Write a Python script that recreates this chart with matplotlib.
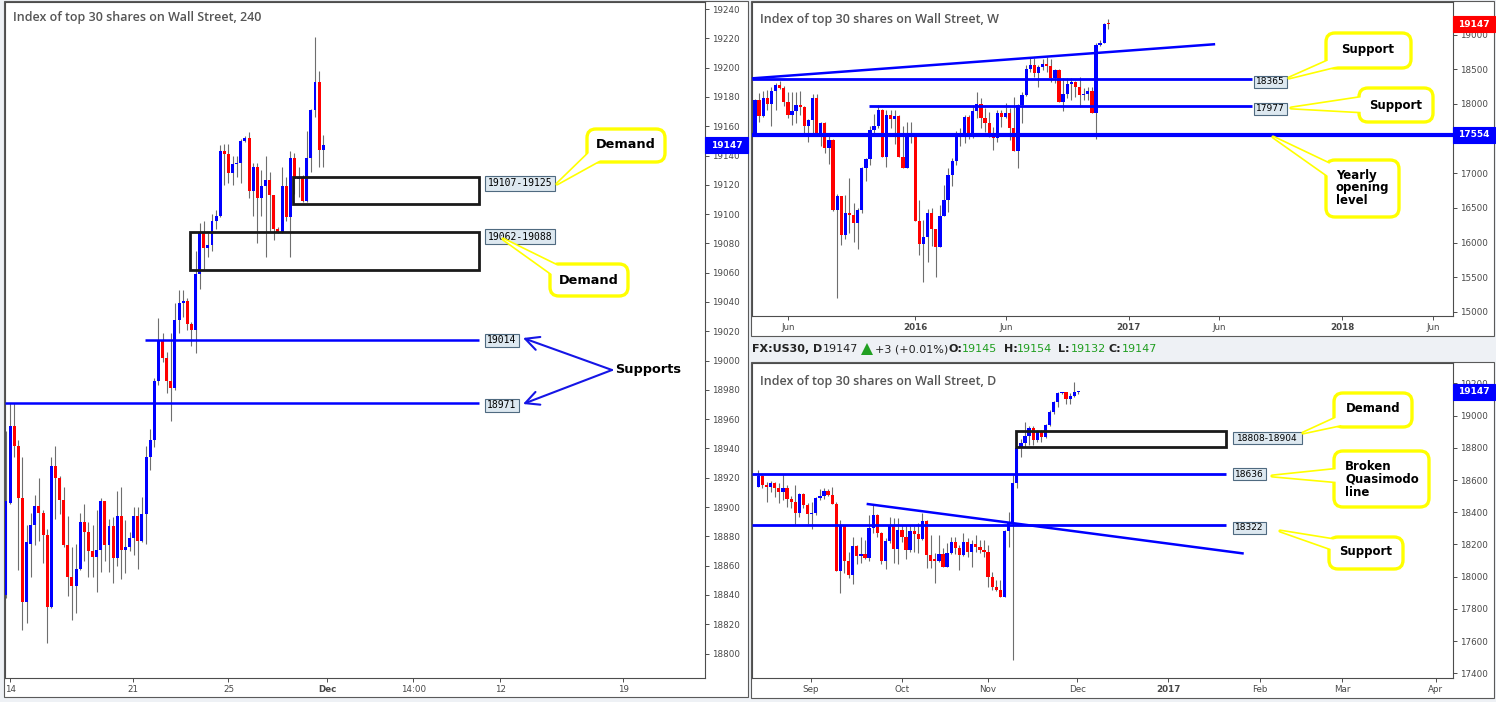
import matplotlib
matplotlib.use("Agg")
import matplotlib.pyplot as plt
import numpy as np
from matplotlib.patches import Rectangle, FancyBboxPatch, Polygon

W, H = 1496, 702

# ---- 4h candles (left panel) ----
h4_open = [18840, 18903, 18955, 18942, 18906, 18835, 18875, 18888, 18901, 18896,
           18881, 18832, 18928, 18920, 18905, 18874, 18852, 18846, 18858, 18890,
           18883, 18870, 18866, 18871, 18904, 18874, 18887, 18865, 18894, 18871,
           18873, 18879, 18894, 18877, 18895, 18934, 18946, 18986, 19014, 19002,
           18986, 18981, 19028, 19039, 19041, 19025, 19021, 19059, 19087, 19077,
           19079, 19095, 19099, 19143, 19141, 19128, 19134, 19135, 19150, 19152,
           19116, 19132, 19111, 19119, 19123, 19113, 19090, 19088, 19119, 19098,
           19138, 19124, 19125, 19109, 19138, 19171, 19190, 19144]
h4_high = [18952, 18971, 18971, 18946, 18934, 18888, 18896, 18908, 18920, 18898,
           18885, 18934, 18942, 18921, 18914, 18894, 18873, 18875, 18896, 18902,
           18890, 18888, 18898, 18906, 18904, 18892, 18893, 18911, 18914, 18891,
           18883, 18900, 18900, 18907, 18942, 18953, 18988, 19029, 19019, 19006,
           19019, 19039, 19048, 19048, 19043, 19026, 19075, 19094, 19095, 19087,
           19100, 19103, 19147, 19148, 19148, 19140, 19140, 19151, 19153, 19156,
           19135, 19135, 19130, 19140, 19129, 19113, 19091, 19132, 19125, 19143,
           19142, 19132, 19127, 19157, 19172, 19221, 19198, 19154]
h4_low = [18838, 18902, 18934, 18857, 18816, 18821, 18852, 18874, 18877, 18862,
          18807, 18831, 18892, 18895, 18873, 18839, 18823, 18828, 18857, 18863,
          18852, 18852, 18842, 18856, 18863, 18856, 18848, 18860, 18851, 18855,
          18870, 18867, 18858, 18876, 18875, 18925, 18941, 18983, 18999, 18978,
          18959, 18980, 19019, 19030, 19021, 19010, 19005, 19049, 19062, 19071,
          19075, 19090, 19098, 19120, 19121, 19120, 19125, 19121, 19149, 19111,
          19099, 19080, 19099, 19071, 19088, 19082, 19087, 19087, 19095, 19071,
          19114, 19112, 19108, 19108, 19129, 19166, 19132, 19132]
h4_close = [18904, 18955, 18942, 18906, 18835, 18876, 18888, 18901, 18896, 18881,
            18832, 18928, 18920, 18905, 18874, 18852, 18846, 18858, 18890, 18883,
            18870, 18866, 18871, 18904, 18874, 18887, 18865, 18894, 18871, 18873,
            18879, 18894, 18877, 18895, 18934, 18946, 18986, 19014, 19002, 18986,
            18981, 19028, 19039, 19041, 19025, 19021, 19059, 19087, 19077, 19079,
            19095, 19099, 19143, 19141, 19128, 19134, 19135, 19150, 19152, 19116,
            19132, 19111, 19119, 19123, 19113, 19090, 19088, 19119, 19098, 19138,
            19124, 19125, 19109, 19138, 19171, 19190, 19144, 19147]
h4_ticks = [1.0, 30.9, 54.0, 78.0, 98.9, 120.0, 149.8]
h4_labels = ["14", "21", "25", "Dec", "14:00", "12", "19"]

# ---- weekly candles (top right) ----
w_open = [17560, 18058, 17832, 18082, 18000, 18193, 18274, 18226, 18034, 17842,
          17899, 17986, 17952, 17683, 17769, 18082, 17577, 17721, 17361, 17481,
          16471, 16673, 16111, 16423, 16399, 16279, 16471, 17072, 17207, 17625,
          17683, 17914, 17240, 17842, 17784, 17832, 17240, 17082, 17553, 17540,
          16317, 15981, 16077, 16423, 16192, 15942, 16385, 16615, 16976, 17178,
          17577, 17539, 17808, 17553, 17899, 18000, 17794, 17721, 17529, 17505,
          17866, 17808, 17866, 17649, 17327, 17986, 18130, 18505, 18563, 18452,
          18529, 18572, 18548, 18380, 18490, 18034, 18140, 18289, 18322, 18240,
          18130, 18140, 18193, 17875, 18851, 18885, 19154]
w_high = [18070, 18164, 18193, 18202, 18240, 18298, 18332, 18260, 18178, 18178,
          18178, 18192, 17971, 17779, 18144, 18144, 17745, 17745, 17539, 17490,
          16702, 16680, 16688, 16928, 16567, 16495, 17096, 17216, 17683, 17856,
          17986, 17928, 17914, 17914, 17914, 17846, 17683, 17745, 17745, 17560,
          16615, 16327, 16481, 16495, 16192, 16543, 16832, 17072, 17216, 17616,
          17649, 17842, 17842, 17986, 18178, 18082, 17938, 17890, 17673, 17914,
          17914, 18019, 17938, 18106, 18000, 18178, 18563, 18659, 18659, 18563,
          18645, 18683, 18650, 18500, 18500, 18370, 18380, 18370, 18337, 18394,
          18226, 18240, 18240, 18875, 18923, 19164, 19226]
w_low = [17540, 17745, 17818, 17914, 17683, 17914, 18212, 17971, 17794, 17697,
         17722, 17842, 17567, 17457, 17577, 17553, 17394, 17289, 17130, 16460,
         15197, 15966, 16048, 16135, 16014, 15904, 16423, 16890, 17120, 17553,
         17650, 17235, 17096, 17650, 17423, 17235, 17080, 17080, 17442, 16310,
         15822, 15437, 15726, 15952, 15500, 15940, 16380, 16447, 16822, 17120,
         17399, 17433, 17491, 17505, 17794, 17659, 17601, 17520, 17337, 17457,
         17664, 17794, 17481, 17320, 17072, 17721, 18120, 18466, 18394, 18250,
         18490, 18466, 18322, 18298, 18030, 17899, 18082, 18058, 18106, 17962,
         18058, 18058, 17870, 17491, 18830, 18875, 19082]
w_close = [18058, 17832, 18082, 18000, 18193, 18274, 18226, 18034, 17842, 17899,
           17986, 17952, 17683, 17769, 18082, 17577, 17721, 17361, 17481, 16471,
           16673, 16111, 16423, 16399, 16279, 16471, 17072, 17207, 17625, 17683,
           17914, 17240, 17842, 17784, 17832, 17240, 17082, 17553, 17540, 16317,
           15981, 16077, 16423, 16192, 15942, 16385, 16615, 16976, 17178, 17577,
           17539, 17808, 17553, 17899, 18000, 17794, 17721, 17529, 17505, 17866,
           17808, 17866, 17649, 17327, 17986, 18130, 18505, 18563, 18452, 18529,
           18572, 18548, 18380, 18490, 18034, 18140, 18289, 18322, 18240, 18130,
           18140, 18193, 17875, 18851, 18885, 19154, 19147]
w_ticks = [8.0, 38.95, 61.1, 91.0, 112.9, 142.9, 165.1]
w_labels = ["Jun", "2016", "Jun", "2017", "Jun", "2018", "Jun"]
w_yticks = [15000, 15500, 16000, 16500, 17000, 18000, 18500, 19000]

# ---- daily candles (bottom right) ----
d_open = [18559, 18625, 18570, 18560, 18584, 18553, 18528, 18553, 18483, 18466,
          18398, 18514, 18445, 18389, 18398, 18491, 18500, 18532, 18507, 18452,
          18038, 18317, 18098, 18011, 18191, 18129, 18141, 18118, 18305, 18383,
          18274, 18098, 18222, 18321, 18172, 18290, 18249, 18166, 18284, 18265,
          18234, 18346, 18135, 18100, 18098, 18141, 18062, 18149, 18214, 18176,
          18135, 18214, 18155, 18201, 18182, 18166, 18151, 18000, 17938, 17917,
          17876, 18284, 18332, 18580, 18797, 18832, 18874, 18921, 18849, 18901,
          18870, 18942, 19025, 19083, 19139, 19145, 19102, 19122, 19145]
d_high = [18663, 18630, 18590, 18594, 18590, 18580, 18636, 18570, 18500, 18570,
          18522, 18522, 18460, 18466, 18497, 18543, 18549, 18543, 18559, 18466,
          18352, 18320, 18155, 18249, 18195, 18249, 18228, 18383, 18449, 18390,
          18280, 18243, 18373, 18362, 18362, 18321, 18321, 18317, 18317, 18331,
          18398, 18352, 18259, 18145, 18259, 18176, 18211, 18249, 18249, 18197,
          18269, 18238, 18228, 18259, 18228, 18228, 18197, 18031, 17980, 17980,
          18290, 18404, 18632, 18803, 18853, 18963, 18936, 18936, 18911, 18911,
          18946, 19035, 19093, 19149, 19149, 19149, 19143, 19211, 19154]
d_low = [18555, 18549, 18466, 18528, 18493, 18460, 18476, 18435, 18425, 18325,
         18373, 18425, 18325, 18294, 18383, 18479, 18481, 18501, 18450, 18035,
         17901, 18021, 17990, 17955, 18079, 18083, 18108, 18098, 18274, 18249,
         18079, 18048, 18210, 18087, 18077, 18218, 18108, 18155, 18155, 18145,
         18230, 18052, 18052, 17959, 18093, 18058, 18058, 18141, 18141, 18044,
         18130, 18124, 18062, 18155, 18145, 18124, 17938, 17917, 17913, 17872,
         17872, 18187, 17483, 18549, 18741, 18808, 18818, 18818, 18839, 18839,
         18860, 18938, 19008, 19056, 19137, 19071, 19071, 19114, 19132]
d_close = [18625, 18570, 18560, 18584, 18553, 18528, 18553, 18483, 18466, 18398,
           18514, 18445, 18389, 18398, 18491, 18500, 18532, 18507, 18452, 18038,
           18317, 18098, 18011, 18191, 18129, 18141, 18118, 18305, 18383, 18274,
           18098, 18222, 18321, 18172, 18290, 18249, 18166, 18284, 18265, 18234,
           18346, 18135, 18100, 18098, 18141, 18062, 18149, 18214, 18176, 18135,
           18214, 18155, 18201, 18182, 18166, 18151, 18000, 17938, 17917, 17876,
           18284, 18332, 18580, 18797, 18832, 18874, 18921, 18849, 18901, 18870,
           18942, 19025, 19083, 19139, 19145, 19102, 19122, 19144, 19147]
d_ticks = [12.8, 35.1, 55.9, 77.7, 99.9, 122.2, 142.3, 165.1]
d_labels = ["Sep", "Oct", "Nov", "Dec", "2017", "Feb", "Mar", "Apr"]

last_price = 19147
yearly_open = 17554

BLUE = "#0000ff"
RED = "#ff0000"
YEL = "#ffff00"
GRAY = "#4d4d4d"

fig = plt.figure(figsize=(W / 100, H / 100), dpi=100)
fig.patch.set_facecolor("#eef1f5")

# background panels
bg = fig.add_axes([0, 0, 1, 1], zorder=0)
bg.set_xlim(0, W)
bg.set_ylim(H, 0)
bg.axis("off")
for x0, y0, x1, y1 in [(4, 1, 748, 697), (751, 1, 1494, 336), (751, 362, 1494, 698)]:
    bg.add_patch(Rectangle((x0, y0), x1 - x0, y1 - y0, fc="white", ec="#5a5a5a", lw=0.8))


def panel(x0, y0, x1, y1):
    ax = fig.add_axes([x0 / W, 1 - y1 / H, (x1 - x0) / W, (y1 - y0) / H], zorder=1)
    ax.set_facecolor("white")
    for s in ax.spines.values():
        s.set_color(GRAY)
        s.set_linewidth(0.8)
    ax.yaxis.tick_right()
    ax.tick_params(axis="both", colors=GRAY, labelcolor="#484848", labelsize=6.3,
                   length=3, width=0.7, pad=2)
    return ax


def candles(ax, o, h, l, c, minh, width=0.7):
    o, h, l, c = map(np.asarray, (o, h, l, c))
    x = np.arange(len(o))
    col = np.where(c >= o, BLUE, RED)
    ax.vlines(x, l, h, color="#6e6e6e", lw=0.8, zorder=2)
    ax.bar(x, np.maximum(np.abs(c - o), minh), bottom=np.minimum(o, c), width=width,
           color=col, lw=0, zorder=3)


def xaxis(ax, ticks, labels, bold=()):
    ax.set_xticks(ticks)
    ax.set_xticklabels(labels)
    for t in ax.get_xticklabels():
        if t.get_text() in bold:
            t.set_fontweight("bold")


# ---- left: 4h ----
ax1 = panel(5, 2, 705, 678)
candles(ax1, h4_open, h4_high, h4_low, h4_close, 1.2, width=0.72)
ax1.set_xlim(-0.24, 169.66)
ax1.set_ylim(18783.3, 19244.8)
ax1.set_yticks(np.arange(18800, 19241, 20))
xaxis(ax1, h4_ticks, h4_labels, bold=("Dec",))
ax1.hlines(19014, 33.7, 114.8, color=BLUE, lw=1.8, zorder=4)
ax1.hlines(18971, -0.24, 114.8, color=BLUE, lw=1.8, zorder=4)
ax1.add_patch(Rectangle((69.66, 19107), 45.1, 18, fc="none", ec="#1a1a1a", lw=2.0, zorder=4))
ax1.add_patch(Rectangle((44.66, 19062), 70.1, 26, fc="none", ec="#1a1a1a", lw=2.0, zorder=4))

# ---- top right: weekly ----
ax2 = panel(752, 2, 1453, 316)
candles(ax2, w_open, w_high, w_low, w_close, 20, width=0.8)
ax2.set_xlim(-0.73, 169.9)
ax2.set_ylim(14942, 19471)
ax2.set_yticks(w_yticks)
xaxis(ax2, w_ticks, w_labels, bold=("2016", "2017", "2018"))
ax2.plot([-0.41, 111.7], [18371, 18861], color=BLUE, lw=1.8, zorder=4)
ax2.hlines(18365, -0.73, 121.0, color=BLUE, lw=2.0, zorder=4)
ax2.hlines(17977, 27.75, 121.0, color=BLUE, lw=2.0, zorder=4)
ax2.axhline(yearly_open, color=BLUE, lw=3.0, zorder=4)

# ---- bottom right: daily ----
ax3 = panel(752, 363, 1453, 678)
candles(ax3, d_open, d_high, d_low, d_close, 9, width=0.8)
ax3.set_xlim(-1.54, 169.3)
ax3.set_ylim(17371, 19327)
ax3.set_yticks(np.arange(17400, 19201, 200))
xaxis(ax3, d_ticks, d_labels, bold=("2017",))
ax3.hlines(18636, -1.54, 113.96, color=BLUE, lw=2.0, zorder=4)
ax3.hlines(18322, -1.54, 113.96, color=BLUE, lw=2.0, zorder=4)
ax3.plot([26.7, 118.0], [18451, 18145], color=BLUE, lw=1.8, zorder=4)
ax3.add_patch(Rectangle((62.7, 18808), 51.26, 96, fc="none", ec="#1a1a1a", lw=2.0, zorder=4))

# ---- overlay in pixel coords ----
ov = fig.add_axes([0, 0, 1, 1], zorder=5)
ov.set_xlim(0, W)
ov.set_ylim(H, 0)
ov.axis("off")
ov.patch.set_alpha(0)


def ypx(ax, v):
    return H - ax.transData.transform((0, v))[1]


title = dict(fontfamily="Open Sans", fontweight="semibold", fontsize=9, color="#555555",
             va="center", ha="left")
ov.text(13, 18, "Index of top 30 shares on Wall Street, 240", **title)
ov.text(760, 19, "Index of top 30 shares on Wall Street, W", **title)
ov.text(760, 381, "Index of top 30 shares on Wall Street, D", **title)


def tag(x0, x1, yc, text, fc, ec, tc, h=13, weight="normal", family="DejaVu Sans", size=6.5):
    ov.add_patch(Rectangle((x0, yc - h / 2), x1 - x0, h, fc=fc, ec=ec, lw=0.8, zorder=10))
    ov.text((x0 + x1) / 2, yc, text, ha="center", va="center", color=tc, fontsize=size,
            fontweight=weight, fontfamily=family, zorder=11)


# price tags on axes
tag(705, 748, ypx(ax1, last_price), str(last_price), BLUE, BLUE, "white", h=16, weight="bold")
tag(1453, 1495, ypx(ax2, last_price), str(last_price), RED, RED, "white", h=16, weight="bold")
tag(1453, 1495, ypx(ax2, yearly_open), str(yearly_open), BLUE, BLUE, "white", h=16, weight="bold")
tag(1453, 1495, ypx(ax3, last_price), str(last_price), BLUE, BLUE, "white", h=16, weight="bold")

# level labels
lab = dict(fc="#dde8f0", ec="#4f6a80", tc="black")
tag(485, 555, ypx(ax1, 19125) + 6, "19107-19125", h=15, family="DejaVu Sans Mono", size=7, **lab)
tag(485, 555, ypx(ax1, 19088) + 5, "19062-19088", h=15, family="DejaVu Sans Mono", size=7, **lab)
tag(485, 519, ypx(ax1, 19014), "19014", h=13, family="DejaVu Sans Mono", size=7, **lab)
tag(485, 519, ypx(ax1, 18971) + 2, "18971", h=13, family="DejaVu Sans Mono", size=7, **lab)
tag(1254, 1287, ypx(ax2, 18365) + 3, "18365", h=12, **lab)
tag(1254, 1287, ypx(ax2, 17977) + 3, "17977", h=12, **lab)
tag(1233, 1302, ypx(ax3, 18904) + 7, "18808-18904", h=12, **lab)
tag(1233, 1266, ypx(ax3, 18636), "18636", h=12, **lab)
tag(1233, 1266, ypx(ax3, 18322) + 3, "18322", h=12, **lab)


def callout(box, b1, b2, tip, lines, size, center=None, left=None):
    x0, y0, x1, y1 = box
    poly = [b1, tip, b2]
    ov.add_patch(Polygon(poly, closed=True, fc="white", ec=YEL, lw=2.4, joinstyle="round", zorder=20))
    ov.add_patch(FancyBboxPatch((x0, y0), x1 - x0, y1 - y0, boxstyle="round,pad=0,rounding_size=9",
                                fc="white", ec=YEL, lw=2.4, zorder=20))
    ov.add_patch(FancyBboxPatch((x0 + 2, y0 + 2), x1 - x0 - 4, y1 - y0 - 4,
                                boxstyle="round,pad=0,rounding_size=7", fc="white", ec="none", zorder=21))
    ov.add_patch(Polygon(poly, closed=True, fc="white", ec="none", zorder=21))
    if center is not None:
        ov.text(center[0], center[1], lines[0], ha="center", va="center", fontsize=size,
                fontweight="bold", color="black", zorder=22)
    else:
        for i, s in enumerate(lines):
            ov.text(left[0], left[1] + i * 12.5, s, ha="left", va="center", fontsize=size,
                    fontweight="bold", color="black", zorder=22)


callout((587, 129, 665, 162), (592, 150), (604, 158), (557, 184), ["Demand"], 9.3, center=(626, 145))
callout((550, 264, 628, 296), (562, 268), (556, 277), (503, 239), ["Demand"], 9.3, center=(589, 280))
callout((1326, 33, 1411, 68), (1334, 58), (1346, 64), (1289, 78), ["Support"], 8.5, center=(1368, 50))
callout((1359, 88, 1433, 122), (1364, 97), (1364, 112), (1291, 108), ["Support"], 8.5, center=(1396, 105))
callout((1326, 160, 1399, 217), (1334, 166), (1331, 178), (1273, 137),
        ["Yearly", "opening", "level"], 8.5, left=(1336, 175))
callout((1334, 393, 1412, 427), (1340, 416), (1350, 423), (1303, 433), ["Demand"], 8.5, center=(1373, 409))
callout((1334, 451, 1429, 507), (1339, 469), (1339, 482), (1272, 476),
        ["Broken", "Quasimodo", "line"], 8.5, left=(1345, 467))
callout((1329, 537, 1403, 569), (1342, 541), (1334, 550), (1280, 531), ["Support"], 8.5, center=(1366, 552))

# supports arrows
ov.text(615, 370, "Supports", ha="left", va="center", fontsize=9.3, fontweight="bold", color="black")
for tip in [(523, 338), (523, 404)]:
    ov.annotate("", xy=tip, xytext=(612, 370),
                arrowprops=dict(arrowstyle="->,head_length=0.7,head_width=0.35", color="#1515e6",
                                lw=1.5, shrinkA=0, shrinkB=0, mutation_scale=14))

# header strip
hdr = dict(fontsize=8, va="center", ha="left", color="#222222")
green = "#1f9e1f"
ov.text(752, 349, "FX:US30, D", fontweight="bold", **hdr)
ov.text(823, 349, "19147", **hdr)
ov.add_patch(Polygon([(861, 355), (873, 355), (867, 343)], closed=True, fc="#22a022", ec="none"))
ov.text(875, 349, "+3 (+0.01%)", **hdr)
for x, k, v in [(949, "O:", "19145"), (1004, "H:", "19154"), (1058, "L:", "19132"), (1109, "C:", "19147")]:
    ov.text(x, 349, k, fontweight="bold", **hdr)
    ov.text(x + 13, 349, v, fontsize=8, va="center", ha="left", color=green)

fig.savefig("out.png", dpi=100, facecolor=fig.get_facecolor())
